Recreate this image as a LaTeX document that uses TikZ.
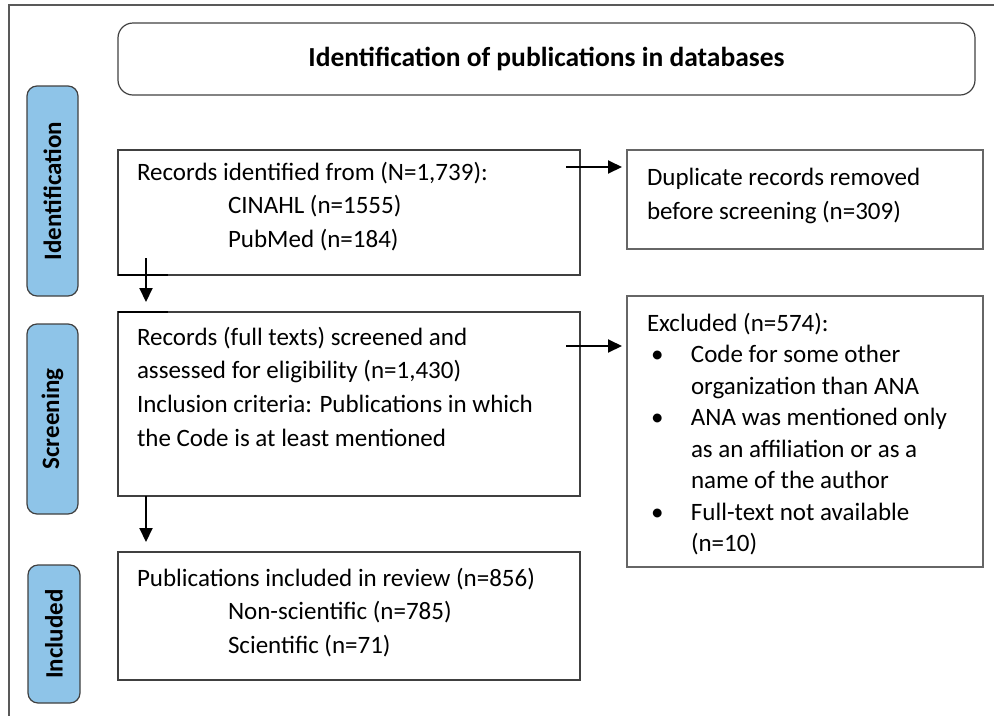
\documentclass[tikz,border=0pt]{standalone}
\usepackage{fontspec}
\setmainfont{Carlito}
\usetikzlibrary{arrows.meta,calc}
\definecolor{phase}{RGB}{142,196,232}
\definecolor{edge}{RGB}{64,64,64}
\newcommand{\bul}{\makebox[44pt][l]{\hspace{4pt}\textbullet}}
\newcommand{\cont}{\hspace*{44pt}}
\tikzset{
  every node/.style={inner sep=0pt, outer sep=0pt},
  flowbox/.style={draw=edge, line width=1.2pt, anchor=north west},
  sidebox/.style={draw=edge, line width=1.2pt, fill=phase, rounded corners=10pt, anchor=north west},
  sidetext/.style={rotate=90, font=\bfseries\fontsize{25}{30}\selectfont},
  bodytext/.style={anchor=north west, align=left, font=\fontsize{25}{33.7}\selectfont},
  arr/.style={line width=2pt, -{Triangle[length=14pt,width=13pt]}},
  mark line/.style={line width=2pt, black}
}
\begin{document}
\begin{tikzpicture}[x=1pt,y=-1pt]
\useasboundingbox (0,0) rectangle (994,716);
% outer frame (only top and left edges inside the page)
\draw[line width=2pt, black!65] (994,5) -- (9,5) -- (9,716);

% header
\node[draw=edge, line width=1.2pt, rounded corners=15pt, minimum width=857pt, minimum height=72pt, anchor=north west,
      font=\bfseries\fontsize{27.5}{32}\selectfont] (head) at (118,23) {Identification of publications in databases};

% phase labels
\node[sidebox, minimum width=51pt, minimum height=210pt] (sid) at (27,86) {};
\node[sidetext] at (sid.center) {Identification};
\node[sidebox, minimum width=51pt, minimum height=190pt] (sscr) at (27,324) {};
\node[sidetext] at (sscr.center) {Screening};
\node[sidebox, minimum width=52pt, minimum height=138pt] (sinc) at (28,565) {};
\node[sidetext] at (sinc.center) {Included};

% main flow boxes
\node[flowbox, minimum width=462pt, minimum height=125pt] (rec) at (118,150) {};
\node[bodytext] at ($(rec.north west)+(19,12)$) {Records identified from (N=1,739):\\
\hspace*{91pt}CINAHL (n=1555)\\
\hspace*{91pt}PubMed (n=184)};

\node[flowbox, minimum width=462pt, minimum height=184pt] (scr) at (118,312) {};
\node[bodytext] at ($(scr.north west)+(19,15)$) {Records (full texts) screened and\\
assessed for eligibility (n=1,430)\\
Inclusion criteria: Publications in which\\
the Code is at least mentioned};

\node[flowbox, minimum width=462pt, minimum height=128pt] (inc) at (118,552) {};
\node[bodytext] at ($(inc.north west)+(19,16)$) {Publications included in review (n=856)\\
\hspace*{91pt}Non-scientific (n=785)\\
\hspace*{91pt}Scientific (n=71)};

% side boxes
\node[flowbox, draw=black!60, minimum width=356pt, minimum height=99pt] (dup) at (627,150) {};
\node[bodytext] at ($(dup.north west)+(20,18)$) {Duplicate records removed\\
before screening (n=309)};

\node[flowbox, draw=black!60, minimum width=356pt, minimum height=271pt] (exc) at (627,296) {};
\node[bodytext, font=\fontsize{25}{31.5}\selectfont] at ($(exc.north west)+(20,17)$) {Excluded (n=574):\\
\bul Code for some other\\
\cont organization than ANA\\
\bul ANA was mentioned only\\
\cont as an affiliation or as a\\
\cont name of the author\\
\bul Full-text not available\\
\cont (n=10)};

% short heavy strokes along the box edges next to the first arrow
\draw[mark line] (rec.south west) -- ++(50,0);
\draw[mark line] (scr.north west) -- ++(50,0);

% connectors
\coordinate (d1) at (146,258);
\coordinate (d2) at (146,496);
\coordinate (r1) at (566,167);
\coordinate (r2) at (566,346);
\draw[arr, shorten >=10pt] (d1) -- (d1 |- scr.north);
\draw[arr, shorten >=10pt] (d2) -- (d2 |- inc.north);
\draw[arr, shorten >=5pt] (r1) -- (r1 -| dup.west);
\draw[arr, shorten >=5pt] (r2) -- (r2 -| exc.west);
\end{tikzpicture}
\end{document}
